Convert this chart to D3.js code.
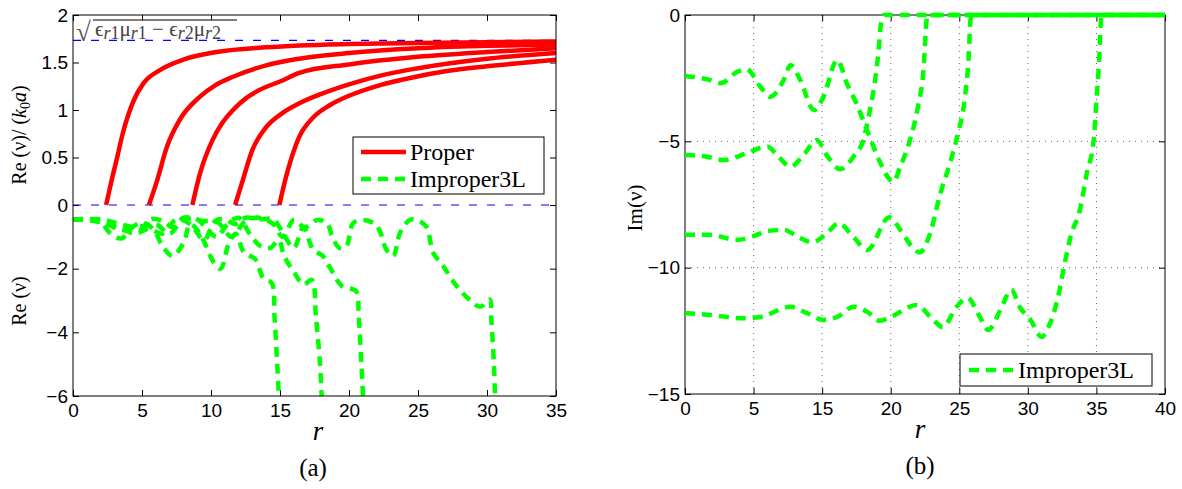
<!DOCTYPE html>
<html>
<head>
<meta charset="utf-8">
<script src="https://cdn.jsdelivr.net/npm/d3@7"></script>
<style>
  body { margin: 0; background: #fff; }
  text { fill: #000; }
</style>
</head>
<body>
<script>
// ---- data ----
// panel (a): Re(nu)/(k0 a) of the proper modes
const proper1 = [[2.4,0],[2.8,0.26],[3.2,0.5],[3.6,0.75],[4.4,1.1],[5.1,1.28],[6.3,1.42],[8,1.53],[10.4,1.61],[14,1.66],[16.4,1.68],[20,1.695],[25,1.705],[30,1.713],[35,1.72]];
const proper2 = [[5.5,0],[6.1,0.26],[6.8,0.61],[7.75,0.9],[9.2,1.14],[10.3,1.26],[11.6,1.35],[14,1.47],[16.4,1.54],[20,1.6],[25,1.65],[30,1.675],[35,1.69]];
const proper3 = [[8.65,0],[9.2,0.33],[10.1,0.68],[10.8,0.86],[11.6,1.0],[12.5,1.12],[13.5,1.21],[15,1.3],[16.4,1.39],[20,1.48],[25,1.56],[30,1.61],[35,1.65]];
const proper4 = [[11.75,0],[12.3,0.26],[13,0.58],[14,0.82],[15.2,0.97],[16.4,1.07],[18,1.17],[20,1.27],[22.5,1.37],[25,1.44],[30,1.54],[35,1.6]];
const proper5 = [[14.95,0],[15.5,0.33],[16.4,0.72],[17.4,0.92],[18.6,1.05],[20,1.15],[22.2,1.26],[24.5,1.34],[27.1,1.41],[30,1.46],[35,1.53]];

// panel (a): Re(nu) of the improper modes
const reImp1 = [[0,-0.45],[1,-0.47],[2,-0.5],[2.6,-0.85],[3.5,-1.05],[4.3,-0.7],[5,-0.55],[5.8,-0.75],[6.5,-1.3],[7.2,-1.6],[8,-1.2],[8.5,-0.6],[9.2,-0.9],[10.2,-1.8],[10.7,-2.0],[11.3,-1.2],[11.8,-0.9],[12.4,-1.5],[13.2,-1.7],[13.8,-2.3],[14.4,-2.45],[14.6,-3.5],[14.8,-5],[14.95,-6.3]];
const reImp2 = [[0,-0.45],[1.5,-0.47],[2.5,-0.6],[3.2,-0.75],[4,-0.8],[5,-0.75],[5.6,-0.45],[6.5,-0.5],[7.3,-0.7],[8,-0.4],[9,-0.45],[9.6,-0.7],[10.4,-1.0],[11.2,-0.6],[12,-0.4],[12.8,-0.9],[13.6,-1.3],[14.3,-1.35],[14.9,-1.1],[15.3,-1.6],[16,-2.1],[16.7,-2.5],[17.3,-2.35],[17.6,-3.5],[17.9,-5],[18.05,-6.3]];
const reImp3 = [[0,-0.45],[1.5,-0.5],[2.5,-0.6],[3.5,-0.75],[4.5,-0.9],[5.5,-0.75],[6.5,-0.9],[7.5,-0.45],[8.5,-0.6],[9.5,-1.1],[10.3,-0.5],[11,-0.45],[11.8,-0.6],[12.5,-0.4],[13.5,-0.45],[14.5,-0.45],[15.3,-0.95],[16,-1.35],[16.7,-0.7],[17.4,-1.4],[18.1,-1.6],[18.6,-1.95],[19.5,-2.55],[20.5,-2.7],[20.7,-3.5],[20.9,-5],[21.05,-6.3]];
const reImp4 = [[0,-0.45],[2,-0.45],[3,-0.55],[4.5,-0.7],[6,-0.6],[7,-0.9],[8,-0.45],[9.5,-0.5],[10.5,-0.55],[11.5,-1.0],[12.5,-0.5],[13.5,-0.4],[14.5,-0.6],[15.2,-1.0],[16,-0.47],[16.8,-0.7],[17.7,-0.47],[18.4,-0.57],[18.8,-1.0],[19.3,-1.35],[19.8,-1.3],[20.3,-0.57],[21,-0.47],[21.8,-0.57],[22.2,-0.78],[22.7,-1.4],[23.2,-1.6],[23.7,-0.87],[24.4,-0.47],[24.9,-0.47],[25.6,-0.68],[26.1,-1.5],[26.8,-1.9],[27.8,-2.55],[28.8,-3.0],[29.5,-3.2],[30.2,-2.97],[30.3,-3.5],[30.5,-5],[30.6,-6.3]];

// panel (b): Im(nu) of the improper modes
const imImp1 = [[0,-2.41],[1.8,-2.57],[2.6,-2.7],[3.8,-2.25],[4.5,-2.15],[5.5,-2.84],[6.2,-3.24],[7.2,-2.57],[7.7,-1.98],[8.4,-2.57],[9.4,-3.76],[10.1,-3.24],[11.1,-1.78],[11.8,-2.7],[12.5,-3.5],[13.3,-4.6],[14.2,-5.8],[14.9,-6.5],[15.2,-6.6],[15.7,-6.0],[16.4,-4.95],[17.0,-3.6],[17.4,-2.1],[17.6,-0.3],[17.7,0],[35,0]];
const imImp2 = [[0,-5.54],[1.5,-5.6],[2.8,-5.74],[4.5,-5.47],[6,-5.2],[6.8,-5.6],[7.7,-6.0],[8.7,-5.5],[9.6,-4.95],[10.4,-5.6],[11.3,-6.1],[12.3,-5.6],[13,-4.95],[13.4,-4.0],[13.8,-2.8],[14.1,-1.5],[14.3,-0.3],[14.5,0],[35,0]];
const imImp3 = [[0,-8.7],[1.8,-8.7],[3.8,-8.9],[5,-8.75],[6,-8.55],[7.2,-8.5],[8.3,-8.8],[9.3,-9.0],[10.4,-8.6],[11.2,-8.24],[12.3,-8.8],[13.3,-9.3],[14.9,-8.0],[15.7,-8.5],[16.6,-9.2],[17.1,-9.4],[17.9,-8.6],[18.6,-7.1],[19.3,-5.9],[19.9,-4.7],[20.4,-3.3],[20.7,-1.5],[20.8,-0.3],[20.9,0],[35,0]];
const imImp4 = [[0,-11.8],[1.8,-11.87],[4.2,-12.0],[5.5,-11.95],[7.7,-11.55],[8.9,-11.8],[10.1,-12.07],[11.1,-11.95],[12.3,-11.55],[13.3,-11.75],[14.2,-12.1],[15,-11.95],[16.9,-11.48],[17.9,-11.95],[18.8,-12.35],[19.8,-11.55],[20.6,-11.2],[21.5,-11.95],[22.1,-12.47],[23,-11.67],[23.8,-10.88],[24.4,-11.55],[25.2,-12.07],[26,-12.74],[26.5,-12.35],[27.2,-11.16],[27.7,-9.8],[28.1,-8.8],[28.8,-7.7],[29.3,-6.27],[29.8,-4.95],[30,-3.36],[30.2,-1.78],[30.3,-0.47],[30.4,0],[35,0]];

// reference levels in (a): 0 and sqrt(er1 mr1 - er2 mr2)
const refLevels = [0, 1.732];

// ticks
const xTicksA = [0, 5, 10, 15, 20, 25, 30, 35];
const yTicksA = [-6, -4, -2, 0, 0.5, 1, 1.5, 2];
const xTicksB = [0, 5, 10, 15, 20, 25, 30, 35];
const xTickLabelsB = ['0', '5', '15', '20', '25', '30', '35', '40'];
const yTicksB = [-15, -10, -5, 0];

// ---- drawing ----
const W = 1182, H = 489;
const serif = '"Liberation Serif", "Times New Roman", serif';
const sans = '"Liberation Sans", Arial, Helvetica, sans-serif';
const RED = '#ff0000', GREEN = '#00ff00', BLUE = '#0000ff';

const svg = d3.select('body').append('svg')
  .attr('width', W).attr('height', H)
  .style('background', '#fff');

// panel (a) box
const A = {left: 73, right: 556, top: 15, bottom: 396, zero: 205};
const xA = d3.scaleLinear().domain([0, 35]).range([A.left, A.right]);
// piecewise: 0..2 on the top part, -6..0 on the bottom part
const yA = d3.scaleLinear().domain([-6, 0, 2]).range([A.bottom, A.zero, A.top]);

// panel (b) box
const B = {left: 685, right: 1165, top: 15, bottom: 394};
const xB = d3.scaleLinear().domain([0, 35]).range([B.left, B.right]);
const yB = d3.scaleLinear().domain([-15, 0]).range([B.bottom, B.top]);

const fmt = d3.format('~g');

function styleAxis(g) {
  g.select('.domain').remove();
  g.selectAll('.tick line').attr('stroke', '#000');
  g.selectAll('.tick text').style('font-family', sans).style('font-size', '19px');
}

// ---------- panel (a) ----------
const gA = svg.append('g');

svg.append('defs').append('clipPath').attr('id', 'clipA')
  .append('rect').attr('x', A.left).attr('y', A.top)
  .attr('width', A.right - A.left).attr('height', A.bottom - A.top);

gA.append('g').attr('transform', `translate(0,${A.bottom})`)
  .call(d3.axisBottom(xA).tickValues(xTicksA).tickSize(-6).tickPadding(8).tickFormat(fmt))
  .call(styleAxis);
gA.append('g').attr('transform', `translate(0,${A.top})`)
  .call(d3.axisTop(xA).tickValues(xTicksA).tickSize(-6).tickFormat(''))
  .call(styleAxis);
gA.append('g').attr('transform', `translate(${A.left},0)`)
  .call(d3.axisLeft(yA).tickValues(yTicksA).tickSize(-6).tickPadding(5).tickFormat(fmt))
  .call(styleAxis);
gA.append('g').attr('transform', `translate(${A.right},0)`)
  .call(d3.axisRight(yA).tickValues(yTicksA).tickSize(-6).tickFormat(''))
  .call(styleAxis);

// blue reference lines
gA.selectAll('line.ref').data(refLevels).enter().append('line')
  .attr('class', 'ref')
  .attr('x1', A.left).attr('x2', A.right)
  .attr('y1', d => yA(d)).attr('y2', d => yA(d))
  .attr('stroke', BLUE).attr('stroke-width', 1.2).attr('stroke-dasharray', '8,10');

const lineA = d3.line().x(d => xA(d[0])).y(d => yA(d[1]));
const plotA = gA.append('g').attr('clip-path', 'url(#clipA)');

plotA.selectAll('path.imp').data([reImp1, reImp2, reImp3, reImp4]).enter().append('path')
  .attr('class', 'imp')
  .attr('d', lineA.curve(d3.curveCatmullRom.alpha(0.5)))
  .attr('fill', 'none').attr('stroke', GREEN).attr('stroke-width', 4.5)
  .attr('stroke-dasharray', '10,7');

const lineRed = d3.line().x(d => xA(d[0])).y(d => yA(d[1])).curve(d3.curveMonotoneX);
plotA.selectAll('path.prop').data([proper1, proper2, proper3, proper4, proper5]).enter().append('path')
  .attr('class', 'prop')
  .attr('d', lineRed)
  .attr('fill', 'none').attr('stroke', RED).attr('stroke-width', 4.5);

gA.append('rect')
  .attr('x', A.left).attr('y', A.top)
  .attr('width', A.right - A.left).attr('height', A.bottom - A.top)
  .attr('fill', 'none').attr('stroke', '#000').attr('stroke-width', 1);

// sqrt annotation
const sq = gA.append('g');
sq.append('text').attr('x', 76).attr('y', 41)
  .style('font-family', serif).style('font-size', '27px').style('fill', '#555').text('\u221A');
sq.append('line').attr('x1', 93).attr('x2', 237).attr('y1', 20).attr('y2', 20)
  .attr('stroke', '#555').attr('stroke-width', 1.5);
const sqt = sq.append('text').attr('x', 95).attr('y', 36)
  .style('font-family', serif).style('font-size', '21px').style('fill', '#444');
[['\u03F5', '1'], ['\u03BC', '1'], null, ['\u03F5', '2'], ['\u03BC', '2']].forEach(p => {
  if (p === null) { sqt.append('tspan').attr('y', 36).text(' \u2212 '); return; }
  sqt.append('tspan').attr('y', 36).text(p[0]);
  sqt.append('tspan').attr('y', 39).style('font-size', '18px').style('font-style', 'italic').text('r');
  sqt.append('tspan').attr('y', 39).style('font-size', '18px').text(p[1]);
});

// legend (a)
const lgA = gA.append('g');
lgA.append('rect').attr('x', 353).attr('y', 137).attr('width', 191).attr('height', 57)
  .attr('fill', '#fff').attr('stroke', '#000');
lgA.append('line').attr('x1', 361).attr('x2', 406).attr('y1', 152).attr('y2', 152)
  .attr('stroke', RED).attr('stroke-width', 4.5);
lgA.append('text').attr('x', 410).attr('y', 160).style('font-family', serif).style('font-size', '24px').text('Proper');
lgA.append('line').attr('x1', 361).attr('x2', 406).attr('y1', 179).attr('y2', 179)
  .attr('stroke', GREEN).attr('stroke-width', 4.5).attr('stroke-dasharray', '10,7');
lgA.append('text').attr('x', 410).attr('y', 187).style('font-family', serif).style('font-size', '24px').text('Improper3L');

// axis labels (a)
const ylA = gA.append('text').attr('transform', 'translate(26,135) rotate(-90)')
  .attr('text-anchor', 'middle').style('font-family', serif).style('font-size', '20px');
ylA.append('tspan').text('Re (\u03BD)/ (');
ylA.append('tspan').style('font-style', 'italic').text('k');
ylA.append('tspan').attr('dy', 4).style('font-size', '14px').text('0');
ylA.append('tspan').attr('dy', -4).style('font-style', 'italic').text('a');
ylA.append('tspan').text(')');
gA.append('text').attr('transform', 'translate(26,301) rotate(-90)')
  .attr('text-anchor', 'middle').style('font-family', serif).style('font-size', '20px').text('Re (\u03BD)');
gA.append('text').attr('x', 318).attr('y', 440).attr('text-anchor', 'middle')
  .style('font-family', serif).style('font-style', 'italic').style('font-size', '27px').text('r');
gA.append('text').attr('x', 313).attr('y', 476).attr('text-anchor', 'middle')
  .style('font-family', serif).style('font-size', '25px').text('(a)');

// ---------- panel (b) ----------
const gB = svg.append('g');

// dotted grid
gB.selectAll('line.gx').data(xTicksB.slice(1, -1)).enter().append('line')
  .attr('x1', d => xB(d)).attr('x2', d => xB(d)).attr('y1', B.top).attr('y2', B.bottom)
  .attr('stroke', '#666').attr('stroke-width', 1).attr('stroke-dasharray', '1,5');
gB.selectAll('line.gy').data(yTicksB.slice(1, -1)).enter().append('line')
  .attr('y1', d => yB(d)).attr('y2', d => yB(d)).attr('x1', B.left).attr('x2', B.right)
  .attr('stroke', '#666').attr('stroke-width', 1).attr('stroke-dasharray', '1,5');

gB.append('g').attr('transform', `translate(0,${B.bottom})`)
  .call(d3.axisBottom(xB).tickValues(xTicksB).tickSize(-6).tickPadding(8).tickFormat((d, i) => xTickLabelsB[i]))
  .call(styleAxis);
gB.append('g').attr('transform', `translate(0,${B.top})`)
  .call(d3.axisTop(xB).tickValues(xTicksB).tickSize(-6).tickFormat(''))
  .call(styleAxis);
gB.append('g').attr('transform', `translate(${B.left},0)`)
  .call(d3.axisLeft(yB).tickValues(yTicksB).tickSize(-6).tickPadding(5).tickFormat(fmt))
  .call(styleAxis);
gB.append('g').attr('transform', `translate(${B.right},0)`)
  .call(d3.axisRight(yB).tickValues(yTicksB).tickSize(-6).tickFormat(''))
  .call(styleAxis);

gB.append('rect')
  .attr('x', B.left).attr('y', B.top)
  .attr('width', B.right - B.left).attr('height', B.bottom - B.top)
  .attr('fill', 'none').attr('stroke', '#000').attr('stroke-width', 1);

const lineB = d3.line().x(d => xB(d[0])).y(d => yB(d[1])).curve(d3.curveMonotoneX);
gB.selectAll('path.im').data([imImp1, imImp2, imImp3, imImp4]).enter().append('path')
  .attr('class', 'im')
  .attr('d', lineB)
  .attr('fill', 'none').attr('stroke', GREEN).attr('stroke-width', 4.5)
  .attr('stroke-dasharray', '10,7');

// legend (b)
const lgB = gB.append('g');
lgB.append('rect').attr('x', 960).attr('y', 354).attr('width', 192).attr('height', 32)
  .attr('fill', '#fff').attr('stroke', '#000');
lgB.append('line').attr('x1', 969).attr('x2', 1015).attr('y1', 370).attr('y2', 370)
  .attr('stroke', GREEN).attr('stroke-width', 4.5).attr('stroke-dasharray', '10,7');
lgB.append('text').attr('x', 1018).attr('y', 378).style('font-family', serif).style('font-size', '24px').text('Improper3L');

// axis labels (b)
gB.append('text').attr('transform', 'translate(642,208) rotate(-90)')
  .attr('text-anchor', 'middle').style('font-family', serif).style('font-size', '21px').text('Im(\u03BD)');
gB.append('text').attr('x', 920).attr('y', 438).attr('text-anchor', 'middle')
  .style('font-family', serif).style('font-style', 'italic').style('font-size', '27px').text('r');
gB.append('text').attr('x', 920).attr('y', 474).attr('text-anchor', 'middle')
  .style('font-family', serif).style('font-size', '25px').text('(b)');
</script>
</body>
</html>
